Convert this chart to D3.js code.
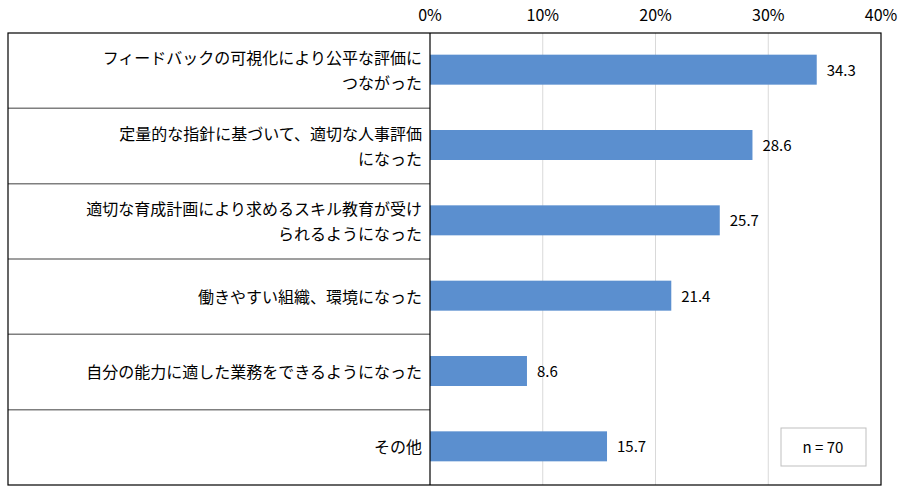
<!DOCTYPE html>
<html lang="ja">
<head>
<meta charset="UTF-8">
<script src="https://d3js.org/d3.v7.min.js"></script>
<style>
  body { margin: 0; background: #fff; font-family: "Noto Sans CJK JP", sans-serif; }
  text { fill: #000; }
</style>
</head>
<body>
<svg width="900" height="503"></svg>
<script>
const categories = [
  ["フィードバックの可視化により公平な評価に", "つながった"],
  ["定量的な指針に基づいて、適切な人事評価", "になった"],
  ["適切な育成計画により求めるスキル教育が受け", "られるようになった"],
  ["働きやすい組織、環境になった"],
  ["自分の能力に適した業務をできるようになった"],
  ["その他"]
];
const values = [34.3, 28.6, 25.7, 21.4, 8.6, 15.7];
const ticks = [0, 10, 20, 30, 40];

const svg = d3.select("svg");
const frameL = 8, plotL = 430, plotR = 881, frameT = 33, frameB = 485;

const x = d3.scaleLinear().domain([0, 40]).range([plotL, plotR]);
const y = d3.scaleBand().domain(d3.range(values.length)).range([frameT, frameB]);

// gridlines
svg.selectAll(".grid").data(ticks.slice(1, -1)).enter().append("line")
  .attr("x1", d => x(d)).attr("x2", d => x(d))
  .attr("y1", frameT).attr("y2", frameB)
  .attr("stroke", "#d9d9d9").attr("stroke-width", 1);

// tick labels
svg.selectAll(".tick").data(ticks).enter().append("text")
  .attr("x", d => x(d)).attr("y", 21)
  .attr("text-anchor", "middle")
  .attr("font-size", 16)
  .text(d => d + "%");

// row separators in label area
svg.selectAll(".sep").data(d3.range(1, values.length)).enter().append("line")
  .attr("x1", frameL).attr("x2", plotL)
  .attr("y1", i => y(i)).attr("y2", i => y(i))
  .attr("stroke", "#7f7f7f").attr("stroke-width", 1.5);

// bars
const bh = 30;
svg.selectAll(".bar").data(values).enter().append("rect")
  .attr("x", x(0))
  .attr("y", (d, i) => y(i) + y.bandwidth() / 2 - bh / 2 - 1)
  .attr("width", d => x(d) - x(0))
  .attr("height", bh)
  .attr("fill", "#5b8fcf");

svg.selectAll(".val").data(values).enter().append("text")
  .attr("x", d => x(d) + 10)
  .attr("y", (d, i) => y(i) + y.bandwidth() / 2 + 5)
  .attr("font-size", 15)
  .text(d => d.toFixed(1));

// category labels
categories.forEach((lines, i) => {
  const cy = y(i) + y.bandwidth() / 2;
  const t = svg.append("text")
    .attr("text-anchor", "end")
    .attr("font-size", 16);
  lines.forEach((s, j) => {
    t.append("tspan")
      .attr("x", plotL - 8)
      .attr("y", cy + 6 + (j - (lines.length - 1) / 2) * 25)
      .text(s);
  });
});

// frame
svg.append("rect").attr("x", frameL).attr("y", frameT)
  .attr("width", plotR - frameL).attr("height", frameB - frameT)
  .attr("fill", "none").attr("stroke", "#000").attr("stroke-width", 1.2);
svg.append("line").attr("x1", plotL).attr("x2", plotL)
  .attr("y1", frameT).attr("y2", frameB)
  .attr("stroke", "#000").attr("stroke-width", 1.2);

// n box
svg.append("rect").attr("x", 781).attr("y", 428).attr("width", 85).attr("height", 38)
  .attr("fill", "#fff").attr("stroke", "#bfbfbf");
svg.append("text").attr("x", 823).attr("y", 453).attr("text-anchor", "middle")
  .attr("font-size", 15).text("n = 70");
</script>
</body>
</html>
